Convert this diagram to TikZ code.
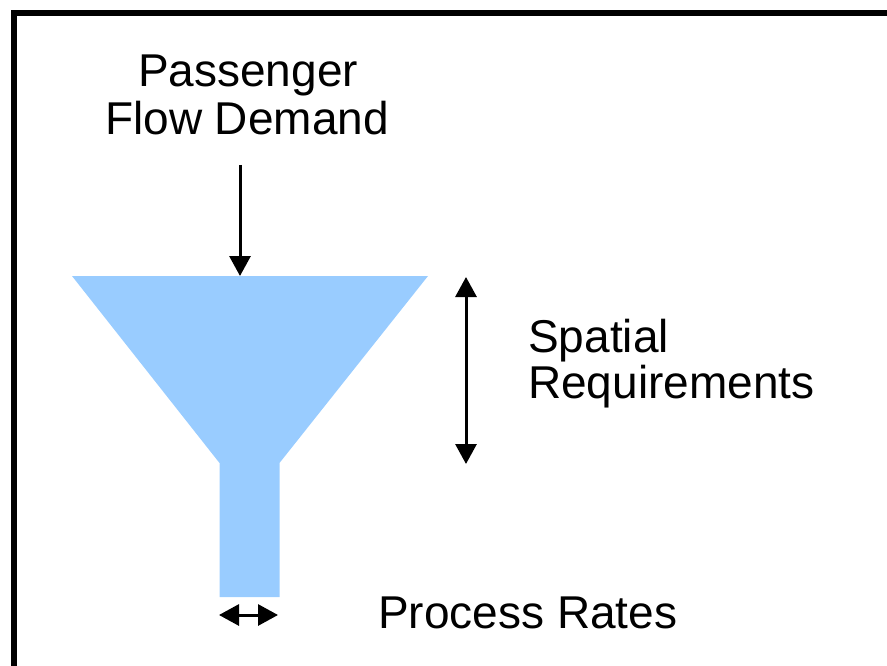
\documentclass[tikz,border=0pt]{standalone}
\usepackage{fontspec}
\setmainfont{Liberation Sans}
\usetikzlibrary{arrows.meta}
\definecolor{funnelblue}{HTML}{99CCFF}
\begin{document}
\begin{tikzpicture}[x=1pt,y=-1pt,
  lbl/.style={font=\fontsize{46}{48}\selectfont, inner sep=0pt},
  tipstyle/.style={line width=3pt},
  arr/.style={tipstyle, -{Triangle[width=21pt,length=20pt]}},
  darr/.style={tipstyle, {Triangle[width=21pt,length=20pt]}-{Triangle[width=21pt,length=20pt]}}]
\useasboundingbox (0,0) rectangle (887,666);
\clip (0,0) rectangle (887,666);
% outer frame (open towards right and bottom)
\draw[line width=6pt] (13.5,700) -- (13.5,13) -- (900,13);

% funnel
\fill[funnelblue] (72,276) -- (428,276) -- (279.5,463) -- (279.5,597)
  -- (219.5,597) -- (219.5,463) -- cycle;

% labels
\node[lbl, anchor=base] (demand1) at (248,87) {Passenger};
\node[lbl, anchor=base] (demand2) at (247,135) {Flow Demand};
\node[lbl, anchor=base west] (space1) at (528,352) {Spatial};
\node[lbl, anchor=base west] (space2) at (528,398) {Requirements};
\node[lbl, anchor=base west] (rates) at (378,628) {Process Rates};

% arrow anchors
\coordinate (inflowtop) at (240,165);
\coordinate (inflowend) at (240,276);
\coordinate (spacetop) at (466,277);
\coordinate (spacebot) at (466,464);
\coordinate (rateleft) at (219,615);
\coordinate (rateright) at (278,615);

\draw[arr] (inflowtop) -- (inflowend);
\draw[darr] (spacetop) -- (spacebot);
\draw[darr] (rateleft) -- (rateright);
\end{tikzpicture}
\end{document}
